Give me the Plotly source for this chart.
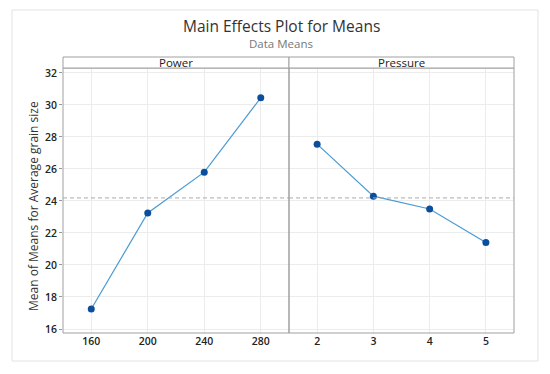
import plotly.graph_objects as go

power_levels = ["160", "200", "240", "280"]
power_means = [17.25, 23.25, 25.8, 30.45]
pressure_levels = ["2", "3", "4", "5"]
pressure_means = [27.55, 24.3, 23.5, 21.4]
grand_mean = 24.19
y_ticks = [16, 18, 20, 22, 24, 26, 28, 30, 32]

line_col = "#4a9ad4"
marker_col = "#0b4f9c"
font_family = "Open Sans, Noto Sans, sans-serif"

fig = go.Figure()
fig.add_trace(go.Scatter(x=power_levels, y=power_means, mode="lines+markers",
                         line=dict(color=line_col, width=1.2),
                         marker=dict(color=marker_col, size=7),
                         xaxis="x", yaxis="y", showlegend=False))
fig.add_trace(go.Scatter(x=pressure_levels, y=pressure_means, mode="lines+markers",
                         line=dict(color=line_col, width=1.2),
                         marker=dict(color=marker_col, size=7),
                         xaxis="x2", yaxis="y2", showlegend=False))

split = 226 / 451
grid = "#ececec"
tick_font = dict(size=10.5, color="#222", family="Open Sans SemiBold, Open Sans, sans-serif", weight=600)
axis_common = dict(type="category", showgrid=True, gridcolor=grid, gridwidth=1,
                   showline=False, zeroline=False, range=[-0.5, 3.5],
                   ticks="", tickfont=tick_font)
fig.update_layout(
    width=550, height=374,
    margin=dict(l=63, r=36, t=68, b=41, autoexpand=False),
    paper_bgcolor="white", plot_bgcolor="white",
    font=dict(family=font_family),
    xaxis=dict(domain=[0, split], anchor="y", automargin=False, **axis_common),
    xaxis2=dict(domain=[split, 1], anchor="y2", automargin=False, **axis_common),
    yaxis=dict(range=[15.75, 32.31], tickvals=y_ticks, showgrid=True, gridcolor=grid,
               zeroline=False, ticks="outside", ticklen=3, tickcolor="#999",
               automargin=False, tickfont=tick_font),
    yaxis2=dict(range=[15.75, 32.31], anchor="x2", showgrid=True, gridcolor=grid,
                zeroline=False, showticklabels=False, tickvals=y_ticks, automargin=False),
)

# grand mean reference lines
for xr, yr in (("x", "y"), ("x2", "y2")):
    fig.add_shape(type="line", xref=xr + " domain", yref=yr, x0=0, x1=1,
                  y0=grand_mean, y1=grand_mean,
                  line=dict(color="#aaaaaa", width=1, dash="4px,3px"))

strip_h = 11 / 265
# panel borders and strips
for x0, x1, label in ((0, split, "Power"), (split, 1, "Pressure")):
    fig.add_shape(type="rect", xref="paper", yref="paper", x0=x0, x1=x1, y0=0, y1=1,
                  line=dict(color="#a0a0a0", width=1))
    fig.add_shape(type="rect", xref="paper", yref="paper", x0=x0, x1=x1, y0=1, y1=1 + strip_h,
                  line=dict(color="#a0a0a0", width=1), fillcolor="white")
    fig.add_annotation(x=(x0 + x1) / 2, y=1 + strip_h / 2, xref="paper", yref="paper",
                       xanchor="center", yanchor="middle",
                       text=label, showarrow=False,
                       font=dict(size=11.5, color="#222", family=font_family))

# outer frame
fig.add_shape(type="rect", xref="paper", yref="paper",
              x0=(12 - 63) / 451, x1=(538 - 63) / 451,
              y0=(333 - 361) / 265, y1=(333 - 10) / 265,
              line=dict(color="#e2e2e2", width=1))

# y-axis title
fig.add_annotation(x=(33 - 63) / 451, y=(333 - 206) / 265, xref="paper", yref="paper",
                   xanchor="center", yanchor="middle", textangle=-90,
                   text="Mean of Means for Average grain size", showarrow=False,
                   font=dict(size=12, color="#333", family=font_family))

fig.add_annotation(x=(281 - 63) / 451, y=(333 - 26) / 265, xref="paper", yref="paper",
                   xanchor="center", yanchor="middle",
                   text="Main Effects Plot for Means", showarrow=False,
                   font=dict(size=15.5, color="#333", family=font_family))
fig.add_annotation(x=(281 - 63) / 451, y=(333 - 43) / 265, xref="paper", yref="paper",
                   xanchor="center", yanchor="middle",
                   text="Data Means", showarrow=False,
                   font=dict(size=11.5, color="#777", family=font_family))

fig.write_html("out.html", config={"displayModeBar": False},
               post_script="document.body.style.margin='0';")
